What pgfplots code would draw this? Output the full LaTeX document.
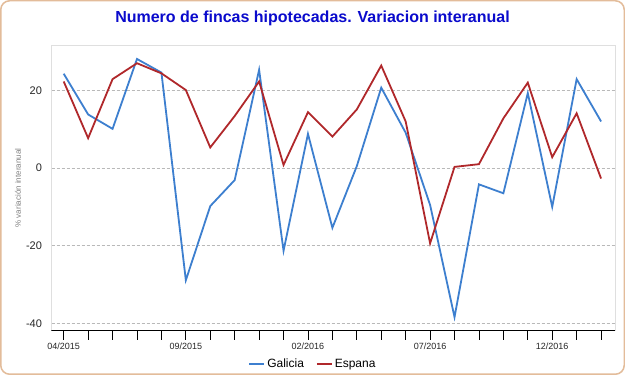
\documentclass[border=0pt]{standalone}
\usepackage{pgfplots}
\pgfplotsset{compat=1.18}
\usepackage{fontspec}
\setmainfont{Liberation Sans}
\definecolor{galicia}{HTML}{3D7FCF}
\definecolor{espana}{HTML}{B0282B}
\definecolor{frameor}{HTML}{E3BC9A}
\definecolor{titleblue}{HTML}{0A0ACC}
\begin{document}
\begin{tikzpicture}[x=1pt,y=1pt]
\path[use as bounding box] (0,0) rectangle (625,375);
\fill[white] (0,0) rectangle (625,375);
\draw[frameor, line width=1.5pt, rounded corners=9pt] (0.75,0.75) rectangle (624.25,374.25);
\node[font=\bfseries\fontsize{16}{19}\selectfont, text=titleblue] at (312.5,357) {Numero de fincas hipotecadas. Variacion interanual};
\node[rotate=90, font=\fontsize{8}{9}\selectfont, text=gray] at (18,187) {\% variación interanual};
\begin{axis}[at={(51.5pt,44.3pt)}, anchor=south west, scale only axis,
  width=563.5pt, height=285.7pt,
  xmin=-0.5, xmax=22.57, ymin=-41.9, ymax=31.7,
  /pgf/number format/assume math mode=true,
  xtick={0,...,22},
  xticklabels={04/2015,,,,,09/2015,,,,,02/2016,,,,,07/2016,,,,,12/2016,,},
  ytick={-40,-20,0,20},
  yticklabels={-40,-20,0,20},
  ymajorgrids, grid style={color=gray!55, dash pattern=on 3pt off 2pt},
  axis line style={gray!25},
  xtick pos=bottom, ytick pos=left,
  tick align=outside, major tick length=9pt,
  xtick style={black, line width=0.8pt},
  ytick style={draw=none},
  x tick label style={font=\fontsize{9}{10}\selectfont, text=black!85},
  y tick label style={font=\fontsize{11}{12}\selectfont, text=black!85, xshift=3pt},
  legend style={at={(0.464,-0.1166)}, anchor=center, draw=none, fill=none,
    font=\fontsize{12}{14}\selectfont, legend columns=2,
    /tikz/every even column/.append style={column sep=10pt}},
  legend image code/.code={\draw[#1] (0pt,0pt) -- (15pt,0pt);},
]
\addplot[galicia, line width=1.8pt, mark=none] coordinates {
(0,24.3) (1,13.8) (2,10.1) (3,28.1) (4,24.6) (5,-28.9) (6,-9.8) (7,-3.1)
(8,25.3) (9,-21.3) (10,8.8) (11,-15.4) (12,0.5) (13,20.7) (14,9.1) (15,-9.5)
(16,-38.4) (17,-4.2) (18,-6.5) (19,19.3) (20,-10.0) (21,22.9) (22,12.0)};
\addlegendentry{Galicia}
\addplot[espana, line width=1.8pt, mark=none] coordinates {
(0,22.3) (1,7.7) (2,22.9) (3,27.0) (4,24.4) (5,20.1) (6,5.3) (7,13.4)
(8,22.3) (9,0.8) (10,14.4) (11,8.1) (12,15.1) (13,26.4) (14,12.0) (15,-19.4)
(16,0.3) (17,1.0) (18,12.8) (19,22.0) (20,2.8) (21,14.1) (22,-2.7)};
\addlegendentry{Espana}
\draw[black, line width=1.3pt] (rel axis cs:0,0) -- (rel axis cs:1,0);
\draw[gray!25, line width=2pt] ([xshift=1pt]rel axis cs:1,0) -- ([xshift=1pt]rel axis cs:1,1);
\end{axis}
\end{tikzpicture}
\end{document}
